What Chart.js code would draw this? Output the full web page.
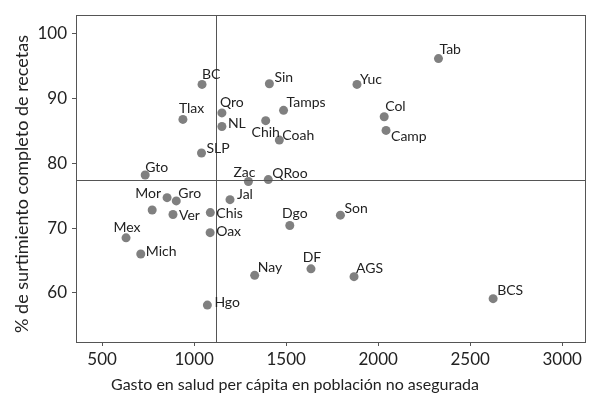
<!DOCTYPE html>
<html>
<head>
<meta charset="utf-8">
<script src="https://cdn.jsdelivr.net/npm/chart.js@4.4.0/dist/chart.umd.min.js"></script>
<style>
	html, body { margin: 0; padding: 0; background: #fff; }
</style>
</head>
<body>
<canvas id="graficoGasto" width="590" height="403"></canvas>
<script>
	// dados
	var estados = ['BC', 'Sin', 'Tamps', 'Qro', 'Tlax', 'Chih', 'NL', 'Coah', 'SLP', 'Gto', 'Zac', 'QRoo',
		'Tab', 'Yuc', 'Col', 'Camp', 'Mor', 'Gro', 'Jal', '', 'Ver', 'Chis', 'Mex', 'Oax', 'Dgo', 'Mich',
		'Nay', 'DF', 'Hgo', 'Son', 'AGS', 'BCS'];
	var gasto = [1043, 1409, 1486, 1151, 939, 1389, 1151, 1463, 1040, 734, 1295, 1403,
		2328, 1885, 2033, 2043, 853, 903, 1195, 772, 885, 1088, 630, 1087, 1520, 710,
		1329, 1635, 1072, 1795, 1869, 2625];
	var surtimiento = [92.2, 92.3, 88.2, 87.8, 86.8, 86.6, 85.7, 83.6, 81.6, 78.2, 77.2, 77.5,
		96.2, 92.2, 87.2, 85.1, 74.7, 74.2, 74.4, 72.8, 72.1, 72.4, 68.5, 69.3, 70.4, 66.0,
		62.7, 63.7, 58.1, 72.0, 62.5, 59.1];
	var ticksX = [500, 1000, 1500, 2000, 2500, 3000];
	var ticksY = [60, 70, 80, 90, 100];
	var corteX = 1117;
	var corteY = 77.5;
	var tituloX = 'Gasto en salud per cápita en población no asegurada';
	var tituloY = '% de surtimiento completo de recetas';

	// onde cada rotulo fica em relacao ao ponto: [dx, dy, alinhamento]
	var posicaoRotulos = {
		BC: [0, -10, 'left'], Sin: [5, -6, 'left'], Tamps: [3, -8, 'left'], Qro: [-2, -10, 'left'],
		Tlax: [-4, -11, 'left'], Chih: [0, 12, 'center'], NL: [6, -3, 'left'], Coah: [3, -5, 'left'],
		SLP: [5, -5, 'left'], Gto: [0, -8, 'left'], Zac: [-4, -9, 'center'], QRoo: [4, -6, 'left'],
		Tab: [1, -9, 'left'], Yuc: [3, -5, 'left'], Col: [1, -10, 'left'], Camp: [5, 6, 'left'],
		Mor: [-6, -4, 'right'], Gro: [2, -7, 'left'], Jal: [7, -5, 'left'], Ver: [6, 1, 'left'],
		Chis: [6, 1, 'left'], Mex: [1, -10, 'center'], Oax: [6, -1, 'left'], Dgo: [5, -12, 'center'],
		Mich: [5, -3, 'left'], Nay: [3, -8, 'left'], DF: [1, -11, 'center'], Hgo: [7, -3, 'left'],
		Son: [4, -7, 'left'], AGS: [2, -8, 'left'], BCS: [4, -8, 'left']
	};

	var _fonte = 'Lato, "DejaVu Sans", sans-serif';
	var _corLinha = '#555';
	var _corTexto = '#222';

	var _pontos = gasto.map(function(valor, i) {
		return { x: valor, y: surtimiento[i] };
	});

	// moldura do grafico, linhas de corte e titulos dos eixos
	var pluginMoldura = {
		id: 'moldura',
		afterDatasetsDraw: function(chart) {
			var ctx = chart.ctx;
			var area = chart.chartArea;
			var px = Math.round(chart.scales.x.getPixelForValue(corteX)) + 0.5;
			var py = Math.round(chart.scales.y.getPixelForValue(corteY)) + 0.5;

			ctx.save();
			ctx.strokeStyle = _corLinha;
			ctx.lineWidth = 1;
			ctx.strokeRect(Math.round(area.left) + 0.5, Math.round(area.top) + 0.5,
				Math.round(area.right - area.left) - 1, Math.round(area.bottom - area.top));

			ctx.beginPath();
			ctx.moveTo(px, area.top);
			ctx.lineTo(px, area.bottom);
			ctx.moveTo(area.left, py);
			ctx.lineTo(area.right, py);
			ctx.stroke();

			ctx.fillStyle = _corTexto;
			ctx.textAlign = 'center';
			ctx.textBaseline = 'middle';
			ctx.font = '16px ' + _fonte;
			ctx.fillText(tituloX, 295, 385);

			ctx.translate(22, 184);
			ctx.rotate(-Math.PI / 2);
			ctx.font = '18px ' + _fonte;
			ctx.fillText(tituloY, 0, 0);
			ctx.restore();
		}
	};

	var pluginRotulos = {
		id: 'rotulos',
		afterDatasetsDraw: function(chart) {
			var ctx = chart.ctx;
			var meta = chart.getDatasetMeta(0);

			ctx.save();
			ctx.font = '14px ' + _fonte;
			ctx.fillStyle = _corTexto;
			ctx.textBaseline = 'middle';

			meta.data.forEach(function(ponto, i) {
				var nome = estados[i];
				if (!nome) return;
				var pos = posicaoRotulos[nome] || [4, -7, 'left'];
				ctx.textAlign = pos[2];
				ctx.fillText(nome, ponto.x + pos[0], ponto.y + pos[1]);
			});
			ctx.restore();
		}
	};

	var semSeparador = function(valor) { return String(valor); };

	new Chart(document.getElementById('graficoGasto').getContext('2d'), {
		type: 'scatter',
		data: {
			datasets: [{
				data: _pontos,
				pointRadius: 4.5,
				pointHoverRadius: 4.5,
				pointBackgroundColor: '#808080',
				pointBorderWidth: 0
			}]
		},
		options: {
			responsive: false,
			animation: false,
			layout: { padding: { top: 10, right: 1, left: 0, bottom: 0 } },
			plugins: {
				legend: { display: false },
				tooltip: { enabled: false }
			},
			scales: {
				x: {
					type: 'linear',
					min: 358,
					max: 3127,
					afterBuildTicks: function(eixo) {
						eixo.ticks = ticksX.map(function(v) { return { value: v }; });
					},
					afterFit: function(eixo) { eixo.height = 61; },
					ticks: { color: _corTexto, padding: 3, font: { family: _fonte, size: 17 }, callback: semSeparador },
					grid: { drawOnChartArea: false, tickLength: 4, color: _corLinha },
					border: { color: _corLinha }
				},
				y: {
					min: 52.4,
					max: 102.9,
					afterBuildTicks: function(eixo) {
						eixo.ticks = ticksY.map(function(v) { return { value: v }; });
					},
					afterFit: function(eixo) { eixo.width = 76; },
					ticks: { color: _corTexto, padding: 5, font: { family: _fonte, size: 17 }, callback: semSeparador },
					grid: { drawOnChartArea: false, tickLength: 4, color: _corLinha },
					border: { color: _corLinha }
				}
			}
		},
		plugins: [pluginMoldura, pluginRotulos]
	});
</script>
</body>
</html>
